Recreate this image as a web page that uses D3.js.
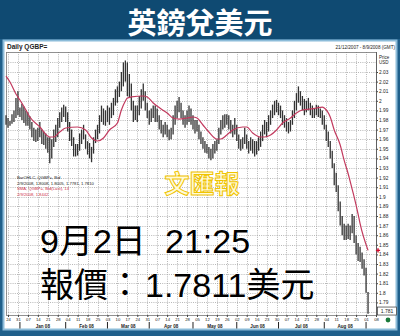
<!DOCTYPE html>
<html>
<head>
<meta charset="utf-8">
<script src="https://cdn.jsdelivr.net/npm/d3@7"></script>
<style>
  html, body { margin: 0; padding: 0; background: #fff; }
  svg { display: block; }
</style>
</head>
<body>
<script>
// Canvas size
var width = 400,
    height = 336;

// Daily bar ranges, 21 Dec 2007 .. 2 Sep 2008 (weekdays only)
const highs = [
  1.985,
  1.982, 1.979, 1.986, 1.990, 2.003,   // Dec 24
  2.010, 1.993, 1.997, 1.994, 1.990,   // Dec 31
  1.988, 1.984, 1.978, 1.972, 1.970,   // Jan 7
  1.972, 1.978, 1.970, 1.968, 1.966,   // Jan 14
  1.962, 1.962, 1.960, 1.970, 1.975,   // Jan 21
  1.982, 1.988, 1.993, 1.996, 1.994,   // Jan 28
  1.988, 1.978, 1.970, 1.962, 1.955,   // Feb 4
  1.955, 1.966, 1.970, 1.975, 1.965,   // Feb 11
  1.958, 1.956, 1.952, 1.962, 1.970,   // Feb 18
  1.975, 1.985, 1.995, 1.992, 1.990,   // Feb 25
  1.995, 1.993, 1.998, 2.003, 2.012,   // Mar 3
  2.015, 2.020, 2.030, 2.040, 2.042,   // Mar 10
  2.040, 2.028, 2.018, 2.000, 1.995,   // Mar 17
  1.995, 2.005, 2.012, 2.018, 2.010,   // Mar 24
  1.998, 1.990, 1.992, 1.995, 1.995,   // Mar 31
  1.992, 1.985, 1.980, 1.975, 1.978,   // Apr 7
  1.975, 1.970, 1.972, 1.985, 1.995,   // Apr 14
  2.000, 2.004, 1.998, 1.990, 1.985,   // Apr 21
  1.990, 1.995, 1.992, 1.985, 1.980,   // Apr 28
  1.980, 1.975, 1.968, 1.962, 1.958,   // May 5
  1.955, 1.952, 1.950, 1.955, 1.958,   // May 12
  1.960, 1.972, 1.980, 1.985, 1.986,   // May 19
  1.986, 1.985, 1.980, 1.975, 1.982,   // May 26
  1.975, 1.965, 1.960, 1.962, 1.972,   // Jun 2
  1.965, 1.958, 1.962, 1.960, 1.958,   // Jun 9
  1.958, 1.962, 1.968, 1.975, 1.980,   // Jun 16
  1.978, 1.985, 1.990, 1.996, 2.000,   // Jun 23
  2.001, 1.998, 1.995, 1.990, 1.985,   // Jun 30
  1.982, 1.978, 1.980, 1.990, 2.000,   // Jul 7
  2.008, 2.015, 2.010, 2.005, 2.002,   // Jul 14
  2.000, 2.003, 1.998, 1.995, 1.992,   // Jul 21
  1.996, 1.995, 1.992, 1.990, 1.985,   // Jul 28
  1.975, 1.968, 1.958, 1.948, 1.935,   // Aug 4
  1.925, 1.912, 1.895, 1.880, 1.872,   // Aug 11
  1.870, 1.872, 1.870, 1.882, 1.880,   // Aug 18
  1.860, 1.852, 1.848, 1.842, 1.835,   // Aug 25
  1.826, 1.8008                        // Sep 1
];
const lows = [
  1.975,
  1.972, 1.974, 1.976, 1.978, 1.982,
  1.985, 1.983, 1.980, 1.977, 1.974,
  1.974, 1.970, 1.962, 1.958, 1.957,
  1.958, 1.962, 1.955, 1.954, 1.950,
  1.946, 1.935, 1.940, 1.952, 1.957,
  1.962, 1.972, 1.978, 1.983, 1.978,
  1.968, 1.958, 1.953, 1.942, 1.942,
  1.943, 1.948, 1.955, 1.960, 1.950,
  1.944, 1.940, 1.936, 1.945, 1.956,
  1.960, 1.966, 1.978, 1.975, 1.974,
  1.978, 1.975, 1.982, 1.985, 1.995,
  1.998, 2.004, 2.010, 2.015, 2.020,
  2.005, 2.004, 1.990, 1.978, 1.980,
  1.978, 1.985, 1.992, 2.000, 1.990,
  1.982, 1.975, 1.978, 1.982, 1.978,
  1.978, 1.970, 1.966, 1.962, 1.965,
  1.962, 1.959, 1.960, 1.965, 1.975,
  1.982, 1.988, 1.982, 1.975, 1.972,
  1.975, 1.978, 1.975, 1.970, 1.966,
  1.968, 1.960, 1.955, 1.950, 1.946,
  1.945, 1.940, 1.938, 1.940, 1.945,
  1.948, 1.955, 1.965, 1.970, 1.972,
  1.975, 1.970, 1.966, 1.962, 1.965,
  1.958, 1.950, 1.948, 1.950, 1.955,
  1.950, 1.945, 1.948, 1.945, 1.942,
  1.944, 1.948, 1.952, 1.958, 1.965,
  1.962, 1.968, 1.975, 1.982, 1.985,
  1.988, 1.985, 1.982, 1.975, 1.972,
  1.968, 1.966, 1.968, 1.975, 1.982,
  1.990, 1.998, 1.995, 1.990, 1.985,
  1.988, 1.990, 1.985, 1.982, 1.982,
  1.985, 1.983, 1.982, 1.975, 1.970,
  1.958, 1.952, 1.940, 1.930, 1.912,
  1.905, 1.885, 1.870, 1.860, 1.855,
  1.855, 1.856, 1.855, 1.862, 1.852,
  1.840, 1.833, 1.832, 1.825, 1.818,
  1.800, 1.7781
];

// 14-day SMA
const smaDates = [
  '2007-12-21', '2007-12-25', '2007-12-28', '2008-01-01', '2008-01-04', '2008-01-08',
  '2008-01-15', '2008-01-22', '2008-01-24', '2008-01-29', '2008-02-01', '2008-02-11',
  '2008-02-15', '2008-02-20', '2008-02-25', '2008-02-28', '2008-03-04', '2008-03-10',
  '2008-03-12', '2008-03-14', '2008-03-17', '2008-03-19', '2008-03-27', '2008-03-31',
  '2008-04-03', '2008-04-09', '2008-04-14', '2008-04-17', '2008-04-22', '2008-04-28',
  '2008-05-01', '2008-05-05', '2008-05-08', '2008-05-13', '2008-05-19', '2008-05-21',
  '2008-05-26', '2008-05-29', '2008-06-05', '2008-06-09', '2008-06-12', '2008-06-18',
  '2008-06-20', '2008-06-25', '2008-06-30', '2008-07-03', '2008-07-09', '2008-07-14',
  '2008-07-17', '2008-07-23', '2008-07-28', '2008-07-31', '2008-08-01', '2008-08-06',
  '2008-08-08', '2008-08-13', '2008-08-15', '2008-08-19', '2008-08-21', '2008-08-22',
  '2008-08-26', '2008-08-27', '2008-09-02'
];
const smaValues = [
  2.0258, 2.0196, 2.0071, 2.0008, 1.9904, 1.9831,
  1.9727, 1.9623, 1.9623, 1.9675, 1.9717, 1.9727,
  1.9696, 1.9613, 1.9581, 1.9613, 1.9696, 1.9769,
  1.9904, 1.9998, 2.0029, 2.0040, 2.0050, 2.0040,
  1.9977, 1.9915, 1.9873, 1.9821, 1.9810, 1.9821,
  1.9831, 1.9821, 1.9748, 1.9675, 1.9602, 1.9602,
  1.9644, 1.9696, 1.9727, 1.9727, 1.9665, 1.9623,
  1.9623, 1.9644, 1.9696, 1.9769, 1.9821, 1.9873,
  1.9904, 1.9915, 1.9925, 1.9935, 1.9925, 1.9831,
  1.9696, 1.9540, 1.9380, 1.9240, 1.9080, 1.9000,
  1.8820, 1.8720, 1.8442
];

// Axis labels
const weekLabels = ['24','31','07','14','21','28','04','11','18','25','03','10','17','24','31',
  '07','14','21','28','05','12','19','26','02','09','16','23','30','07','14','21','28',
  '04','11','18','25','01','08'];
const monthLabels = ['Jan 08','Feb 08','Mar 08','Apr 08','May 08','Jun 08','Jul 08','Aug 08'];
const priceTicks = [2.03, 2.02, 2.01, 2.00, 1.99, 1.98, 1.97, 1.96, 1.95, 1.94, 1.93, 1.92,
  1.91, 1.90, 1.89, 1.88, 1.87, 1.86, 1.85, 1.84, 1.83, 1.82, 1.81, 1.80, 1.79];
const legendLines = ['BarOHLC, QGBP=, Bid', '2/9/2008, 1.8008, 1.8005, 1.7781, 1.7810',
  'SMA, QGBP=, Bid(Last), 14', '2/9/2008, 1.8442'];
const lastPrice = 1.7810;
const lastSma = 1.8442;

// trading days
var days = d3.timeDays(new Date(2007, 11, 21), new Date(2008, 8, 3))
    .filter(function(d) { return d.getDay() !== 0 && d.getDay() !== 6; });
var fmt = d3.timeFormat('%Y-%m-%d');
var dayIndex = {};
days.forEach(function(d, i) { dayIndex[fmt(d)] = i; });

// plot box
const plotLeft = 6, plotRight = 376, plotTop = 52, plotBottom = 315;
const sans = '"Liberation Sans", Arial, sans-serif';
const cjk = '"Liberation Sans", "Noto Sans CJK TC", sans-serif';

var x = d3.scaleLinear().domain([1, 186]).range([8, 376]);
var y = d3.scaleLinear().domain([1.78, 2.03]).range([312, 72]);

var svg = d3.select('body').append('svg')
    .attr('width', width)
    .attr('height', height);

/******* frame ********/
svg.append('rect').attr('width', width).attr('height', height).attr('fill', '#1f5f8a');
svg.append('rect').attr('width', width).attr('height', 39).attr('fill', '#0f4a72');
svg.append('rect')
    .attr('x', 3.5).attr('y', 40.5).attr('width', 393).attr('height', 289)
    .attr('fill', '#fff').attr('stroke', '#8cbcd9').attr('stroke-width', 2);

svg.append('text')
    .attr('x', 200).attr('y', 34)
    .attr('text-anchor', 'middle')
    .attr('font-family', '"Noto Sans CJK TC", sans-serif')
    .attr('font-weight', 'bold')
    .attr('font-size', 29)
    .attr('fill', '#fff')
    .text('英鎊兌美元');

svg.append('text')
    .attr('x', 7).attr('y', 49)
    .attr('font-family', sans).attr('font-size', 6.5).attr('font-weight', 'bold')
    .attr('fill', '#222')
    .text('Daily QGBP=');

svg.append('text')
    .attr('x', 395).attr('y', 49)
    .attr('text-anchor', 'end')
    .attr('font-family', sans).attr('font-size', 4.6)
    .attr('fill', '#222')
    .text('21/12/2007 - 8/9/2008 (GMT)');

/******* grid ********/
var weekIdx = weekLabels.map(function(d, i) { return 1 + 5 * i; });

svg.append('g').selectAll('line')
    .data(d3.range(178, 205).map(function(v) { return v / 100; }))
    .enter().append('line')
    .attr('x1', plotLeft).attr('x2', plotRight)
    .attr('y1', function(d) { return Math.round(y(d)) + 0.5; })
    .attr('y2', function(d) { return Math.round(y(d)) + 0.5; })
    .attr('stroke', '#999').attr('stroke-width', 0.7)
    .attr('stroke-dasharray', '1,1.2');

svg.append('g').selectAll('line')
    .data(weekIdx)
    .enter().append('line')
    .attr('x1', function(d) { return Math.round(x(d)) + 0.5; })
    .attr('x2', function(d) { return Math.round(x(d)) + 0.5; })
    .attr('y1', plotTop).attr('y2', plotBottom)
    .attr('stroke', '#999').attr('stroke-width', 0.7)
    .attr('stroke-dasharray', '1,1.2');

svg.append('rect')
    .attr('x', plotLeft + 0.5).attr('y', plotTop + 0.5)
    .attr('width', plotRight - plotLeft).attr('height', plotBottom - plotTop)
    .attr('fill', 'none').attr('stroke', '#777').attr('stroke-width', 0.8);

/******* bars ********/
svg.append('g').selectAll('line')
    .data(days)
    .enter().append('line')
    .attr('x1', function(d, i) { return x(i); })
    .attr('x2', function(d, i) { return x(i); })
    .attr('y1', function(d, i) { return y(highs[i]); })
    .attr('y2', function(d, i) { return y(lows[i]); })
    .attr('stroke', '#333')
    .attr('stroke-width', 1.3);

/******* SMA ********/
var sma = smaDates.map(function(d, i) { return [dayIndex[d], smaValues[i]]; });
svg.append('path')
    .datum(sma)
    .attr('fill', 'none')
    .attr('stroke', '#c23a5e')
    .attr('stroke-width', 1.2)
    .attr('d', d3.line()
        .x(function(d) { return x(d[0]); })
        .y(function(d) { return y(d[1]); })
        .curve(d3.curveMonotoneX));

/******* axes ********/
var yAxis = svg.append('g')
    .attr('transform', 'translate(' + plotRight + ',0)')
    .call(d3.axisRight(y).tickValues(priceTicks).tickSize(2).tickPadding(1)
        .tickFormat(d3.format('.2~f')));
yAxis.select('.domain').remove();
yAxis.selectAll('text').attr('font-family', sans).attr('font-size', 4.8).attr('fill', '#222');
yAxis.selectAll('line').attr('stroke', '#444');

svg.append('line')
    .attr('x1', plotRight + 0.5).attr('x2', plotRight + 0.5)
    .attr('y1', plotTop).attr('y2', plotBottom)
    .attr('stroke', '#555').attr('stroke-width', 0.8);

svg.append('text').attr('x', 379).attr('y', 58.5)
    .attr('font-family', sans).attr('font-size', 4.5).attr('fill', '#222').text('Price');
svg.append('text').attr('x', 379).attr('y', 64)
    .attr('font-family', sans).attr('font-size', 4.5).attr('fill', '#222').text('USD');

var xAxis = svg.append('g')
    .attr('transform', 'translate(0,' + plotBottom + ')')
    .call(d3.axisBottom(x).tickValues(weekIdx).tickSize(2).tickPadding(1)
        .tickFormat(function(d, i) { return weekLabels[i]; }));
xAxis.select('.domain').remove();
xAxis.selectAll('text').attr('font-family', sans).attr('font-size', 4.2).attr('fill', '#222');
xAxis.selectAll('line').attr('stroke', '#444');

// month boundaries and names
var starts = [];
days.forEach(function(d, i) {
  if (i > 0 && d.getMonth() !== days[i - 1].getMonth()) starts.push(i);
});
svg.append('g').selectAll('line')
    .data(starts)
    .enter().append('line')
    .attr('x1', function(d) { return x(d); })
    .attr('x2', function(d) { return x(d); })
    .attr('y1', 322).attr('y2', 328.5)
    .attr('stroke', '#222').attr('stroke-width', 1);

svg.append('g').selectAll('text')
    .data(monthLabels)
    .enter().append('text')
    .attr('x', function(d, i) { return (x(starts[i]) + x(starts[i + 1])) / 2; })
    .attr('y', 327.5)
    .attr('text-anchor', 'middle')
    .attr('font-family', sans).attr('font-size', 4.6).attr('font-weight', 'bold')
    .attr('fill', '#222')
    .text(function(d) { return d; });

// last price box and SMA marker
svg.append('rect')
    .attr('x', 377.5).attr('y', y(lastPrice) - 4).attr('width', 19).attr('height', 8)
    .attr('fill', '#fff').attr('stroke', '#333').attr('stroke-width', 0.7);
svg.append('text')
    .attr('x', 387).attr('y', y(lastPrice) + 2)
    .attr('text-anchor', 'middle')
    .attr('font-family', sans).attr('font-size', 5).attr('fill', '#222')
    .text(d3.format('.3f')(lastPrice));
svg.append('path')
    .attr('transform', 'translate(378,' + y(lastSma) + ')')
    .attr('d', d3.symbol().type(d3.symbolCross).size(10)())
    .attr('fill', '#d01030');
svg.append('circle')
    .attr('cx', 388).attr('cy', 320).attr('r', 2.4)
    .attr('fill', '#1b7a3a');

/******* legend ********/
svg.append('g').selectAll('text')
    .data(legendLines)
    .enter().append('text')
    .attr('x', 17)
    .attr('y', function(d, i) { return 179 + i * 5.5; })
    .attr('font-family', sans).attr('font-size', 4.2)
    .attr('fill', function(d, i) { return i < 2 ? '#222' : '#d0304a'; })
    .text(function(d) { return d; });

/******* overlays ********/
svg.append('text')
    .attr('x', 202).attr('y', 193)
    .attr('text-anchor', 'middle')
    .attr('font-family', '"Noto Sans CJK TC", sans-serif')
    .attr('font-weight', 'bold').attr('font-size', 25)
    .attr('fill', '#fffbd8').attr('stroke', '#f0c400').attr('stroke-width', 1)
    .text('文匯報');

svg.append('text')
    .attr('x', 40).attr('y', 253)
    .attr('font-family', cjk).attr('font-size', 34).attr('fill', '#000')
    .text('9月2日');
svg.append('text')
    .attr('x', 165).attr('y', 253)
    .attr('font-family', cjk).attr('font-size', 34).attr('fill', '#000')
    .text('21:25');
svg.append('text')
    .attr('x', 40).attr('y', 297)
    .attr('font-family', cjk).attr('font-size', 34).attr('fill', '#000')
    .text('報價：');
svg.append('text')
    .attr('x', 145).attr('y', 297)
    .attr('font-family', cjk).attr('font-size', 34).attr('fill', '#000')
    .text('1.7811美元');
</script>
</body>
</html>
